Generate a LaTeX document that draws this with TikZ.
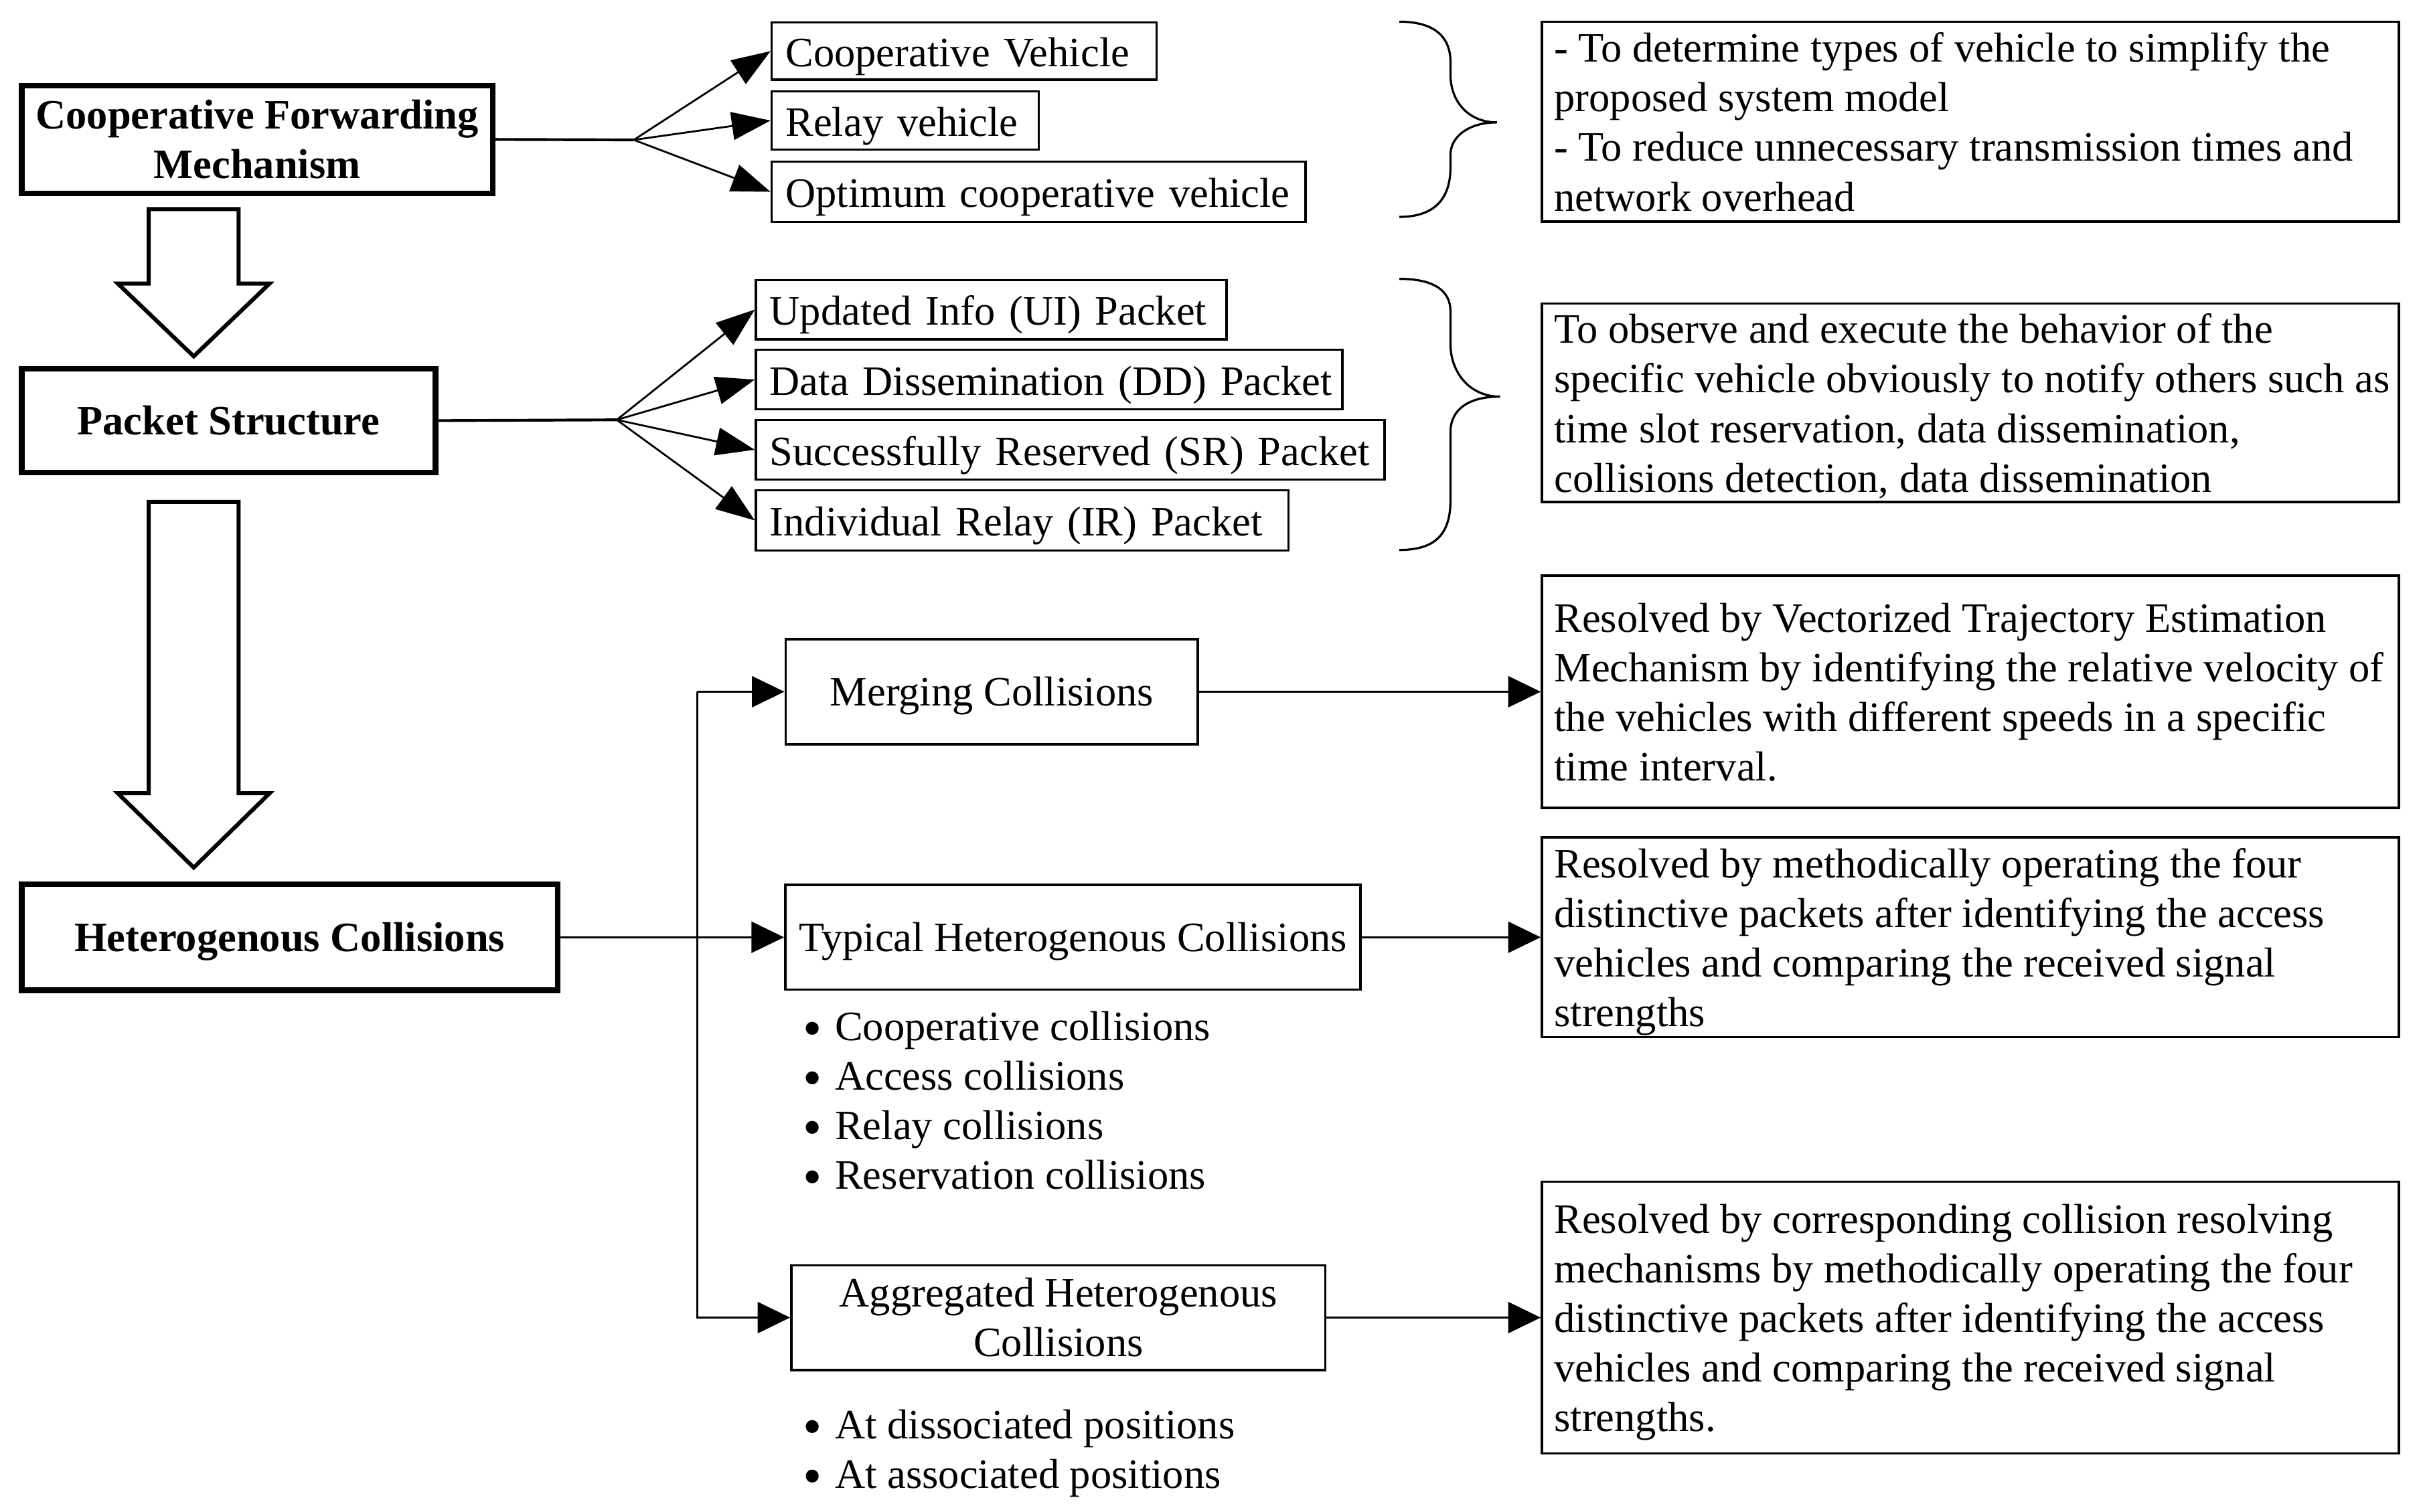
\documentclass[tikz,border=0pt]{standalone}
\usepackage{fontspec}
\usepackage{graphicx}
\setmainfont{Liberation Serif}
\usetikzlibrary{arrows.meta}
\newcommand{\rlines}[1]{\makebox[268.5pt][l]{\raisebox{-1.6pt}[\height][\depth]{\begin{tabular}{@{}l@{}}#1\end{tabular}}}}
\newcommand{\bul}{\raisebox{-1.97pt}{\scalebox{1.29}{\textbullet}}\hspace{4.2pt}}
\begin{document}
\begin{tikzpicture}[x=0.5pt,y=-0.5pt,
  every node/.style={font=\fontsize{13.5}{16}\selectfont},
  thickbox/.style={draw, line width=1.8pt, align=center, inner sep=1pt, font=\fontsize{13.5}{16}\selectfont\bfseries},
  smallbox/.style={draw, line width=0.75pt, inner xsep=4.5pt, inner ysep=0pt, align=left, text height=10pt, text depth=0pt},
  midbox/.style={draw, line width=0.8pt, align=center, inner sep=1pt},
  oneline/.style={text height=9pt, text depth=0pt},
  rbox/.style={draw, line width=0.75pt, inner xsep=4pt, inner ysep=0pt, minimum width=276.5pt},
  fan/.style={line width=0.6pt, -{Triangle[length=12.5pt,width=9pt]}},
  arr/.style={line width=0.75pt, -{Triangle[length=10.5pt,width=10pt]}},
  hollow/.style={line width=1.3pt, line join=miter},
  brace/.style={line width=0.7pt}
]
\useasboundingbox (0,0) rectangle (1563.6,976);

% left main boxes
\node[thickbox, minimum width=152pt, minimum height=34.8pt] (cfm) at (166,90) {Cooperative Forwarding\\Mechanism};
\node[thickbox, minimum width=133.5pt, minimum height=33.5pt] (ps) at (147.5,271.5) {Packet Structure};
\node[thickbox, minimum width=173pt, minimum height=34.2pt, text height=9.2pt, text depth=0pt] (hc) at (187,605) {Heterogenous Collisions};

% hollow arrows
\draw[hollow] (96,135) -- (154,135) -- (154,183) -- (174,183) -- (125,230) -- (76,183) -- (96,183) -- cycle;
\draw[hollow] (96,324) -- (154,324) -- (154,512) -- (174,512) -- (125,560) -- (76,512) -- (96,512) -- cycle;

% vehicle boxes
\node[smallbox, text width=115.2pt, minimum height=18.5pt] (cv) at (622.2,33) {\mbox{Cooperative Vehicle}};
\node[smallbox, text width=77.2pt, minimum height=18.75pt] (rv) at (584.2,77.8) {\mbox{Relay vehicle}};
\node[smallbox, text width=163.25pt, minimum height=19.4pt] (ov) at (670.2,123.8) {\mbox{Optimum cooperative vehicle}};

\coordinate (f1) at (409,90.3);
\draw[line width=0.9pt] (cfm.east) -- (f1);
\draw[fan] (f1) -- (cv.west);
\draw[fan] (f1) -- (rv.west);
\draw[fan] (f1) -- (ov.west);

% packet boxes
\node[smallbox, text width=142.85pt, minimum height=19.2pt] (ui) at (639.65,199.9) {\mbox{Updated Info (UI) Packet}};
\node[smallbox, text width=180.2pt, minimum height=19.3pt] (dd) at (677,245) {\mbox{Data Dissemination (DD) Packet}};
\node[smallbox, text width=193.8pt, minimum height=19.2pt] (sr) at (690.6,290.3) {\mbox{Successfully Reserved (SR) Packet}};
\node[smallbox, text width=162.8pt, minimum height=19.4pt] (ir) at (659.6,335.9) {\mbox{Individual Relay (IR) Packet}};

\coordinate (f2) at (398,271);
\draw[line width=0.9pt] (ps.east) -- (f2);
\draw[fan] (f2) -- (ui.west);
\draw[fan] (f2) -- (dd.west);
\draw[fan] (f2) -- (sr.west);
\draw[fan] (f2) -- (ir.west);

% braces
\draw[brace] (903,14) .. controls (926,14) and (936,24) .. (936,40) -- (936,48) .. controls (936,66) and (948,79) .. (966,79) .. controls (948,79) and (936,88) .. (936,100) -- (936,108) .. controls (936,128) and (926,140) .. (903,140);
\draw[brace] (903,180) .. controls (926,180) and (936,188) .. (936,201) -- (936,222) .. controls (936,240) and (948,256) .. (968,256) .. controls (948,256) and (936,264) .. (936,279) -- (936,323) .. controls (936,345) and (926,355) .. (903,355);

% right boxes
\node[rbox, minimum height=64.5pt] (r1) at (1271.5,78.5) {\rlines{- To determine types of vehicle to simplify the\\ proposed system model\\ - To reduce unnecessary transmission times and\\ network overhead}};
\node[rbox, minimum height=64pt] (r2) at (1271.5,260) {\rlines{To observe and execute the behavior of the\\ specific vehicle obviously to notify others such as\\ time slot reservation, data dissemination,\\ collisions detection, data dissemination}};
\node[rbox, minimum height=75pt] (r3) at (1271.5,446.5) {\rlines{Resolved by Vectorized Trajectory Estimation\\ Mechanism by identifying the relative velocity of\\ the vehicles with different speeds in a specific\\ time interval.}};
\node[rbox, minimum height=64.5pt] (r4) at (1271.5,605) {\rlines{Resolved by methodically operating the four\\ distinctive packets after identifying the access\\ vehicles and comparing the received signal\\ strengths}};
\node[rbox, minimum height=87.75pt] (r5) at (1271.5,850.5) {\rlines{Resolved by corresponding collision resolving\\ mechanisms by methodically operating the four\\ distinctive packets after identifying the access\\ vehicles and comparing the received signal\\ strengths.}};

% collision boxes
\node[midbox, oneline, minimum width=133pt, minimum height=33.8pt] (mrg) at (640,446.5) {Merging Collisions};
\node[midbox, oneline, minimum width=185.65pt, minimum height=33.8pt] (typ) at (692.4,605) {Typical Heterogenous Collisions};
\node[midbox, minimum width=172.3pt, minimum height=33.75pt] (agg) at (683,850.5) {Aggregated Heterogenous\\Collisions};

\coordinate (vt) at (450,446.5);
\coordinate (vb) at (450,850.5);
\draw[arr] (hc.east) -- (typ.west);
\draw[arr] (vt) -- (mrg.west);
\draw[arr, line join=miter] (vt) -- (vb) -- (agg.west);
\draw[arr] (mrg.east) -- (r3.west);
\draw[arr] (typ.east) -- (r4.west);
\draw[arr] (agg.east) -- (r5.west);

% bullet lists
\node[anchor=west, inner sep=0pt] (bl1) at (517.9,713.2) {\begin{tabular}{@{}l@{}}\bul Cooperative collisions\\ \bul Access collisions\\ \bul Relay collisions\\ \bul Reservation collisions\end{tabular}};
\node[anchor=west, inner sep=0pt] (bl2) at (517.9,938.2) {\begin{tabular}{@{}l@{}}\bul At dissociated positions\\ \bul At associated positions\end{tabular}};
\end{tikzpicture}
\end{document}
